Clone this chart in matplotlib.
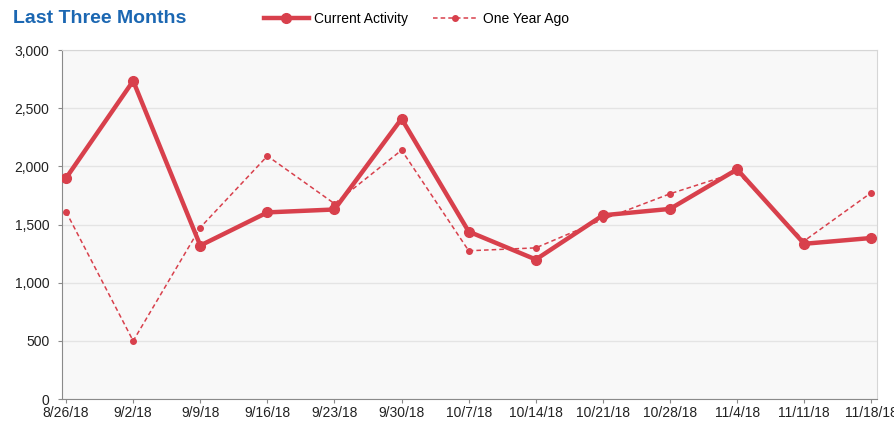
import numpy as np
import matplotlib
matplotlib.use("Agg")
import matplotlib.pyplot as plt

plt.rcParams['font.family'] = ['Liberation Sans', 'DejaVu Sans']

weeks = ['8/26/18', '9/2/18', '9/9/18', '9/16/18', '9/23/18', '9/30/18', '10/7/18',
         '10/14/18', '10/21/18', '10/28/18', '11/4/18', '11/11/18', '11/18/18']
current = [1900, 2735, 1320, 1605, 1630, 2410, 1440, 1200, 1580, 1635, 1975, 1335, 1385]
year_ago = [1610, 500, 1475, 2090, 1680, 2140, 1275, 1300, 1545, 1765, 1950, 1360, 1775]

red = '#d8404c'
x = np.arange(len(weeks))

fig = plt.figure(figsize=(8.94, 4.21), dpi=100)
ax = fig.add_axes([0.0694, 0.052, 0.912, 0.829])
ax.set_facecolor('#f8f8f8')

ax.plot(x, current, color=red, lw=3.2, marker='o', ms=7, label='Current Activity', zorder=3)
ax.plot(x, year_ago, color=red, lw=1.1, ls=(0, (3, 2)), marker='o', ms=4, label='One Year Ago', zorder=2)

ax.set_xlim(-0.06, 12.09)
ax.set_ylim(0, 3000)
ax.set_yticks(range(0, 3001, 500))
ax.set_yticklabels([f'{v:,}' for v in range(0, 3001, 500)])
ax.set_xticks(x)
ax.set_xticklabels(weeks)
ax.grid(axis='y', color='#e4e4e4', lw=1)
ax.set_axisbelow(True)

for s in ['left', 'bottom']:
    ax.spines[s].set_color('#8a8a8a')
for s in ['top', 'right']:
    ax.spines[s].set_color('#d6d6d6')
ax.tick_params(axis='both', colors='#8a8a8a', labelcolor='#222222', labelsize=10, length=3)
ax.tick_params(axis='y', pad=6)
ax.tick_params(axis='x', pad=2)

# title font is condensed in the original; narrow face falls back if missing
fig.text(0.015, 0.955, 'Last Three Months', family=['Liberation Sans Narrow', 'Liberation Sans'],
         fontsize=14, fontweight='bold', color='#1b67b2', va='center')
fig.legend(loc='center left', bbox_to_anchor=(0.2815, 0.955), ncol=2, frameon=False,
           fontsize=10, handlelength=3.2, columnspacing=1.8, handletextpad=0.4)

fig.savefig('out.png', dpi=100)
